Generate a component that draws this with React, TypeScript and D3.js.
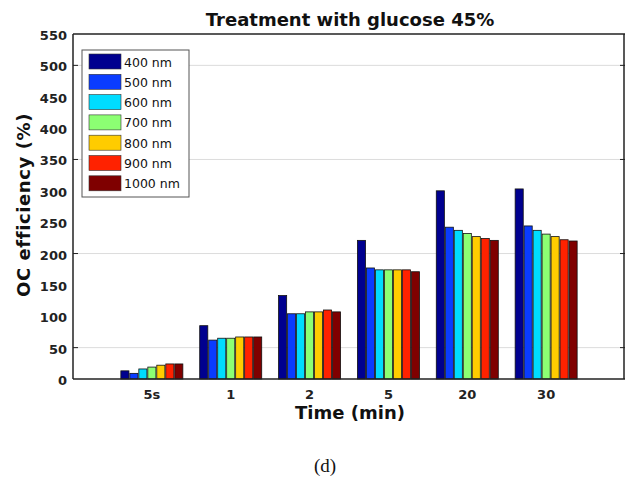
import React, { useEffect, useRef } from 'react';
import * as d3 from 'd3';

const times = ['5s', '1', '2', '5', '20', '30'];
const wavelengths = ['400 nm', '500 nm', '600 nm', '700 nm', '800 nm', '900 nm', '1000 nm'];
const colors = ['#00008f', '#0a3cff', '#00dcff', '#8cff73', '#ffcc00', '#ff2200', '#7f0000'];

// one value per time point for each wavelength
const values400 = [13, 85, 133, 221, 300, 303];
const values500 = [9, 62, 104, 177, 242, 244];
const values600 = [16, 65, 104, 174, 237, 237];
const values700 = [19, 65, 107, 174, 232, 231];
const values800 = [22, 67, 107, 174, 227, 227];
const values900 = [24, 67, 110, 174, 224, 222];
const values1000 = [24, 67, 107, 171, 221, 220];

const series = [values400, values500, values600, values700, values800, values900, values1000];
const yTicks = d3.range(0, 551, 50);
const gridValues = [50, 200, 350, 500];

const W = 625;
const H = 482;
const margin = { left: 73, top: 34, bottom: 103 };

const ChartSvg = () => {
  const svgRef = useRef<SVGSVGElement | null>(null);

  useEffect(() => {
    const svg = d3.select(svgRef.current);
    svg.selectAll('*').remove();

    const x0 = margin.left;
    const x1 = 625;
    const y0 = H - margin.bottom; // baseline
    const y1 = margin.top;

    const y = d3.scaleLinear().domain([0, 550]).range([y0, y1]);
    // categories sit at positions 1..6 on a 0..7 axis
    const xPos = d3.scaleLinear().domain([0, 7]).range([x0, x1]);
    const groupW = 62;
    const inner = d3.scaleBand<number>()
      .domain(d3.range(wavelengths.length))
      .range([-groupW / 2, groupW / 2])
      .paddingInner(0.1);

    const font = 'DejaVu Sans, Verdana, sans-serif';

    // grid
    svg.append('g').selectAll('line')
      .data(gridValues)
      .enter().append('line')
      .attr('x1', x0).attr('x2', x1)
      .attr('y1', d => y(d)).attr('y2', d => y(d))
      .attr('stroke', '#dcdcdc').attr('stroke-width', 1);

    // bars
    const bars = svg.append('g');
    series.forEach((vals, si) => {
      bars.selectAll(null)
        .data(vals)
        .enter().append('rect')
        .attr('x', (d, i) => xPos(i + 1) + (inner(si) as number))
        .attr('y', d => y(d))
        .attr('width', inner.bandwidth())
        .attr('height', d => y0 - y(d))
        .attr('fill', colors[si])
        .attr('stroke', '#111')
        .attr('stroke-width', 0.8);
    });

    // axes box
    const box = svg.append('g').attr('fill', 'none').attr('stroke', '#222');
    box.append('line').attr('x1', x0).attr('x2', x1).attr('y1', y0).attr('y2', y0).attr('stroke-width', 1.5);
    box.append('line').attr('x1', x0).attr('x2', x1).attr('y1', y1).attr('y2', y1).attr('stroke-width', 1.5);
    box.append('line').attr('x1', x0).attr('x2', x0).attr('y1', y1).attr('y2', y0).attr('stroke-width', 1.5);
    box.append('line').attr('x1', x1 - 1).attr('x2', x1 - 1).attr('y1', y1).attr('y2', y0).attr('stroke-width', 1.5);

    // tick marks on grid values
    box.selectAll('.tl')
      .data(gridValues)
      .enter().append('line')
      .attr('x1', x0).attr('x2', x0 + 5)
      .attr('y1', d => y(d)).attr('y2', d => y(d));
    box.selectAll('.tr')
      .data(gridValues)
      .enter().append('line')
      .attr('x1', x1 - 5).attr('x2', x1)
      .attr('y1', d => y(d)).attr('y2', d => y(d));

    // y tick labels
    svg.append('g').selectAll('text')
      .data(yTicks)
      .enter().append('text')
      .attr('x', x0 - 6)
      .attr('y', d => y(d) + 6)
      .attr('text-anchor', 'end')
      .attr('font-family', font)
      .attr('font-weight', 'bold')
      .attr('font-size', 13)
      .attr('fill', '#222')
      .text(d => d);

    // x tick labels
    svg.append('g').selectAll('text')
      .data(times)
      .enter().append('text')
      .attr('x', (d, i) => xPos(i + 1))
      .attr('y', y0 + 20)
      .attr('text-anchor', 'middle')
      .attr('font-family', font)
      .attr('font-weight', 'bold')
      .attr('font-size', 13)
      .attr('fill', '#222')
      .text(d => d);

    // title & axis labels
    svg.append('text')
      .attr('x', 350).attr('y', 26)
      .attr('text-anchor', 'middle')
      .attr('font-family', font).attr('font-weight', 'bold').attr('font-size', 18)
      .attr('fill', '#111')
      .text('Treatment with glucose 45%');

    svg.append('text')
      .attr('x', 350).attr('y', 419)
      .attr('text-anchor', 'middle')
      .attr('font-family', font).attr('font-weight', 'bold').attr('font-size', 18)
      .attr('fill', '#111')
      .text('Time (min)');

    svg.append('text')
      .attr('transform', `translate(30, 205) rotate(-90)`)
      .attr('text-anchor', 'middle')
      .attr('font-family', font).attr('font-weight', 'bold').attr('font-size', 18)
      .attr('letter-spacing', 0.6)
      .attr('fill', '#111')
      .text('OC efficiency (%)');

    svg.append('text')
      .attr('x', 325).attr('y', 472)
      .attr('text-anchor', 'middle')
      .attr('font-family', 'Liberation Serif, DejaVu Serif, serif').attr('font-size', 19)
      .attr('fill', '#111')
      .text('(d)');

    // legend
    const legend = svg.append('g').attr('transform', 'translate(82, 50)');
    legend.append('rect')
      .attr('width', 107).attr('height', 147)
      .attr('fill', '#fff').attr('stroke', '#555').attr('stroke-width', 1);
    const rows = legend.selectAll('g')
      .data(wavelengths)
      .enter().append('g')
      .attr('transform', (d, i) => `translate(7, ${4 + i * 20.3})`);
    rows.append('rect')
      .attr('width', 32).attr('height', 15)
      .attr('fill', (d, i) => colors[i])
      .attr('stroke', '#333').attr('stroke-width', 0.6);
    rows.append('text')
      .attr('x', 35).attr('y', 12.5)
      .attr('font-family', font).attr('font-size', 12.5)
      .attr('fill', '#111')
      .text(d => d);
  }, []);

  return <svg ref={svgRef} width={W} height={H} style={{ display: 'block' }} />;
};

export default function App() {
  return (
    <div style={{ position: 'absolute', left: 0, top: 0 }}>
      <ChartSvg />
    </div>
  );
}
